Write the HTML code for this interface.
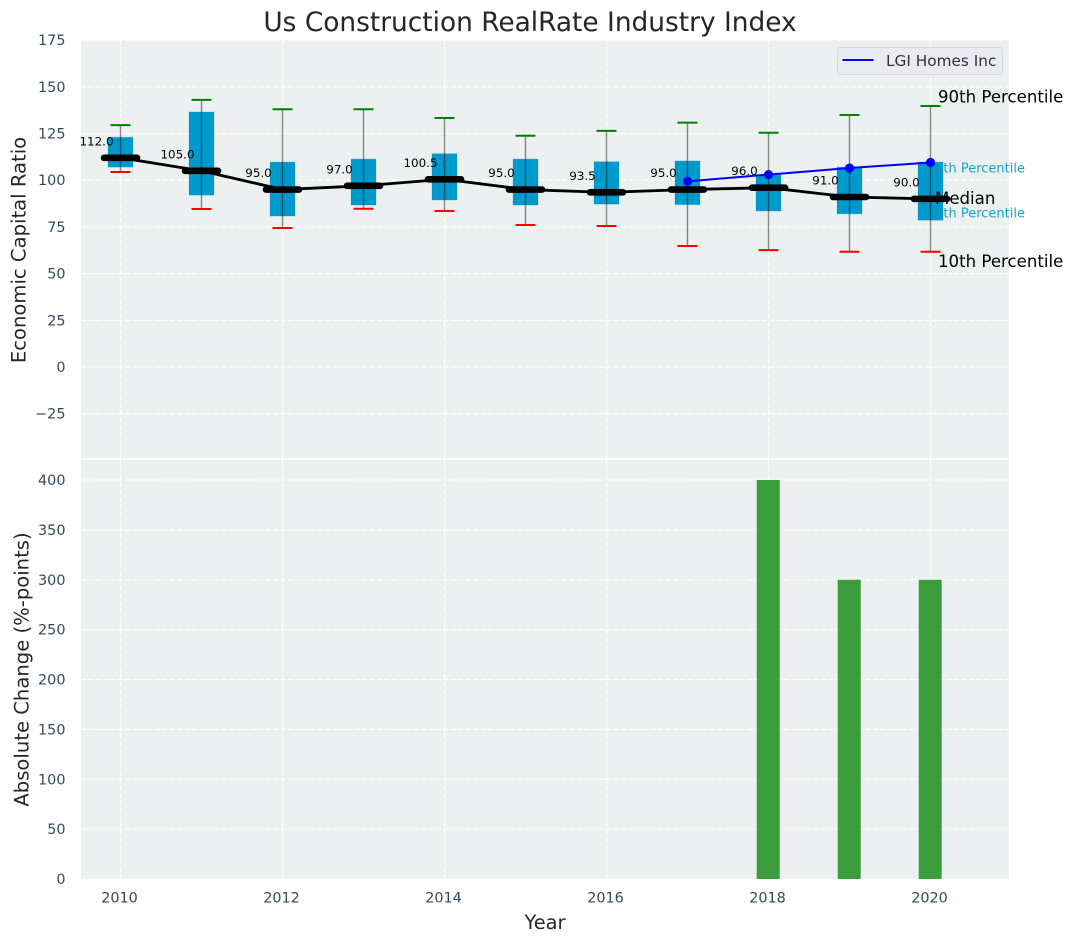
<!DOCTYPE html>
<html lang="en">
<head>
<meta charset="utf-8">
<title>Us Construction RealRate Industry Index</title>
<style>
html,body{margin:0;padding:0;background:#fff;}
body{width:1073px;height:942px;overflow:hidden;}
svg{display:block;font-family:"DejaVu Sans","Liberation Sans",sans-serif;}
</style>
</head>
<body>
<svg id="chart" xmlns="http://www.w3.org/2000/svg" width="1073" height="942" viewBox="0 0 1073 942"></svg>
<script>
const years = [2010,2011,2012,2013,2014,2015,2016,2017,2018,2019,2020];
const p90 = [129.5,143,138,138,133.3,123.8,126.4,130.8,125.4,134.9,139.7];
const p75 = [123,136.5,109.7,111.3,114.2,111.3,109.9,110.3,103,107,109.7];
const medians = [112,105,95,97,100.5,95,93.5,95,96,91,90];
const p25 = [107,92,80.8,86.7,89.4,86.7,87.2,86.9,83.5,82,78.6];
const p10 = [104.4,84.6,74.4,84.7,83.5,76,75.5,64.8,62.6,61.7,61.7];
const medianLabels = ["112.0","105.0","95.0","97.0","100.5","95.0","93.5","95.0","96.0","91.0","90.0"];
const companyYears = [2017,2018,2019,2020];
const companyValues = [99.4,103,106.5,109.5];
const changeYears = [2018,2019,2020];
const changeValues = [400,300,300];
const topTicks = [175,150,125,100,75,50,25,0,-25];
const bottomTicks = [400,350,300,250,200,150,100,50,0];
const xTicks = [2010,2012,2014,2016,2018,2020];

const svg = document.getElementById('chart');
const NS = 'http://www.w3.org/2000/svg';
const L = 81, R = 1009, T1 = 40, B1 = 458, T2 = 460, B2 = 879;
const xScale = v => 120.5 + (v - 2010) * 81;
const yTop = v => 367 - v * 1.868;
const yBottom = v => 879 - v * 0.9975;

function mk(tag, props, parent) {
  const el = document.createElementNS(NS, tag);
  for (const k in props) el.setAttribute(k, props[k]);
  (parent || svg).appendChild(el);
  return el;
}
function txt(str, props, parent) {
  const el = mk('text', props, parent);
  el.textContent = str;
  return el;
}

/* panels */
const panelTop = mk('rect', {x:L, y:T1, width:R-L, height:B1-T1, fill:'#ecf0f1'});


const panelBottom = mk('rect', {x:L, y:T2, width:R-L, height:B2-T2, fill:'#ecf0f1'});



/* grid */
const gridStyle = {stroke:'#ffffff', 'stroke-width':1.1, 'stroke-dasharray':'5 2.4', fill:'none'};
xTicks.forEach(v => {
  [[T1,B1],[T2,B2]].forEach(([a,b]) => {
    const g = mk('line', Object.assign({x1:xScale(v), x2:xScale(v), y1:a, y2:b}, gridStyle));
    
    
  });
});
topTicks.forEach(v => {
  const g = mk('line', Object.assign({x1:L, x2:R, y1:yTop(v), y2:yTop(v)}, gridStyle));
  
  
});
bottomTicks.forEach(v => {
  const g = mk('line', Object.assign({x1:L, x2:R, y1:yBottom(v), y2:yBottom(v)}, gridStyle));
  
  
});

/* tick labels */
const tickFont = {fill:'#34495e', 'font-size':14.4};
topTicks.forEach(v => {
  const t = txt(v < 0 ? '\u2212' + Math.abs(v) : String(v), Object.assign({x:65.5, y:yTop(v)+5, 'text-anchor':'end'}, tickFont));
  
  
});
bottomTicks.forEach(v => {
  const t = txt(String(v), Object.assign({x:65.5, y:yBottom(v)+5, 'text-anchor':'end'}, tickFont));
  
  
});
xTicks.forEach(v => {
  const t = txt(String(v), Object.assign({x:xScale(v)-1, y:902.5, 'text-anchor':'middle'}, tickFont));
  
  
});

/* titles */
const title = txt('Us Construction RealRate Industry Index', {x:530, y:31, 'text-anchor':'middle', 'font-size':26.4, fill:'#262626'});


const xTitle = txt('Year', {x:545, y:929, 'text-anchor':'middle', 'font-size':19.4, fill:'#262626'});


const yTitleTop = txt('Economic Capital Ratio', {transform:'translate(25.5,250) rotate(-90)', 'text-anchor':'middle', 'font-size':19.6, fill:'#262626'});


const yTitleBottom = txt('Absolute Change (%-points)', {transform:'translate(28.5,669.5) rotate(-90)', 'text-anchor':'middle', 'font-size':19.6, fill:'#262626'});



/* bars */
changeYears.forEach((yr, i) => {
  const b = mk('rect', {x:xScale(yr)-11.8, y:yBottom(changeValues[i]), width:23, height:yBottom(0)-yBottom(changeValues[i]), fill:'#008000', 'fill-opacity':0.75});
  
  
});

/* annotations drawn behind boxes */
const a75 = txt('75th Percentile', {x:1025, y:yTop(p75[10])+10.5, 'text-anchor':'end', 'font-size':13, fill:'#0099cc', 'fill-opacity':0.9});


const a25 = txt('25th Percentile', {x:1025, y:yTop(p25[10])-2.5, 'text-anchor':'end', 'font-size':13, fill:'#0099cc', 'fill-opacity':0.9});



/* boxes + whiskers */
years.forEach((yr, i) => {
  const cx = xScale(yr);
  const box = mk('rect', {x:cx-12.5, y:yTop(p75[i]), width:25, height:yTop(p25[i])-yTop(p75[i]), fill:'#0099cc', stroke:'#0099cc', 'stroke-opacity':0.25, 'stroke-width':1});
  
  
  const whisk = mk('line', {x1:cx, x2:cx, y1:yTop(p90[i]), y2:yTop(p10[i]), stroke:'#000', 'stroke-opacity':0.45, 'stroke-width':1.4});
  
  
  const capHi = mk('line', {x1:cx-10, x2:cx+10, y1:yTop(p90[i]), y2:yTop(p90[i]), stroke:'#008000', 'stroke-width':2});
  
  
  const capLo = mk('line', {x1:cx-10, x2:cx+10, y1:yTop(p10[i]), y2:yTop(p10[i]), stroke:'#ff0000', 'stroke-width':2});
  
  
});

/* median line */
const medianLine = mk('polyline', {points:years.map((yr,i)=>xScale(yr)+','+yTop(medians[i])).join(' '), fill:'none', stroke:'#000', 'stroke-width':2.8, 'stroke-linejoin':'round'});


years.forEach((yr, i) => {
  const cx = xScale(yr), cy = yTop(medians[i]);
  const m = mk('line', {x1:cx-16.5, x2:cx+16.5, y1:cy, y2:cy, stroke:'#000', 'stroke-width':6.6, 'stroke-linecap':'round'});
  
  
  const lab = txt(medianLabels[i], {x:cx-24, y:cy-12.5, 'text-anchor':'middle', 'font-size':11.9, fill:'#000'});
  
  
});

/* company series */
const companyLine = mk('polyline', {points:companyYears.map((yr,i)=>xScale(yr)+','+yTop(companyValues[i])).join(' '), fill:'none', stroke:'#0000ff', 'stroke-width':2});


companyYears.forEach((yr, i) => {
  const c = mk('circle', {cx:xScale(yr), cy:yTop(companyValues[i]), r:4.6, fill:'#0000ff'});
  
  
});

/* annotations on top */
const annFont = {'font-size':16.6, fill:'#000'};
const a90 = txt('90th Percentile', Object.assign({x:938, y:yTop(p90[10])+-3.5}, annFont));


const aMed = txt('Median', Object.assign({x:935, y:yTop(medians[10])+5}, annFont));


const a10 = txt('10th Percentile', Object.assign({x:938, y:yTop(p10[10])+15.5}, annFont));



/* legend */
const legend = mk('g', {});


const legendBox = mk('rect', {x:837.5, y:47.5, width:165, height:27, rx:3, fill:'#eaeaf2', stroke:'#d6d6da', 'stroke-width':1}, legend);


const legendLine = mk('line', {x1:842.5, x2:873.5, y1:60, y2:60, stroke:'#0000ff', 'stroke-width':2}, legend);


const legendText = txt('LGI Homes Inc', {x:886, y:66, 'font-size':15.3, fill:'#333'}, legend);


</script>
</body>
</html>
